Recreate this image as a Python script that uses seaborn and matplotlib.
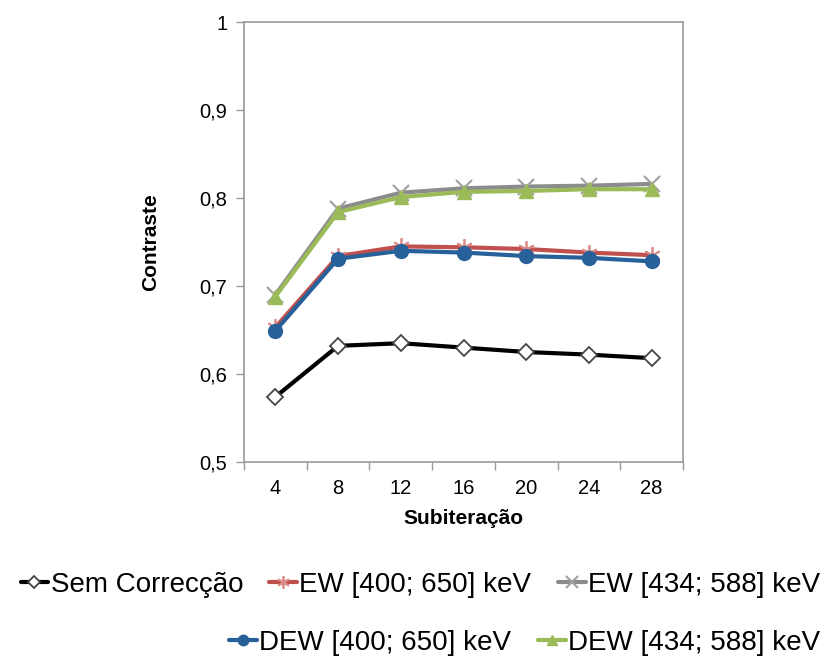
import matplotlib
matplotlib.use("Agg")
import matplotlib.pyplot as plt
import numpy as np
import pandas as pd
import seaborn as sns

subiteracoes = [4, 8, 12, 16, 20, 24, 28]
sem_correccao = [0.574, 0.632, 0.635, 0.630, 0.625, 0.622, 0.618]
ew_400_650 = [0.653, 0.734, 0.745, 0.744, 0.742, 0.738, 0.735]
ew_434_588 = [0.690, 0.788, 0.806, 0.811, 0.813, 0.814, 0.816]
dew_400_650 = [0.649, 0.731, 0.740, 0.738, 0.734, 0.732, 0.728]
dew_434_588 = [0.688, 0.784, 0.801, 0.807, 0.808, 0.810, 0.810]

series = [
    ("Sem Correcção", sem_correccao, dict(color="black", marker="D", mfc="white", mec="#444444", ms=8, mew=1.3)),
    ("EW [400; 650] keV", ew_400_650, dict(color="#C0504D", marker=(6, 2, 0), mec="#D98C8A", ms=12, mew=1.3)),
    ("EW [434; 588] keV", ew_434_588, dict(color="#8C8C8C", marker="x", mec="#A0A0A0", ms=11, mew=1.5)),
    ("DEW [400; 650] keV", dew_400_650, dict(color="#28609A", marker="o", mec="#28609A", ms=10, mew=1)),
    ("DEW [434; 588] keV", dew_434_588, dict(color="#9BBB59", marker="^", mec="#9BBB59", ms=10, mew=1)),
]

sns.set_theme(style="white")
plt.rcParams["font.family"] = ["Liberation Sans", "DejaVu Sans"]
plt.rcParams["text.color"] = "black"
plt.rcParams["axes.labelcolor"] = "black"
plt.rcParams["xtick.labelcolor"] = "black"
plt.rcParams["ytick.labelcolor"] = "black"

fig = plt.figure(figsize=(8.22, 6.6), dpi=100)
ax = fig.add_axes([244 / 822, 1 - 462 / 660, 439 / 822, 440 / 660])

xpos = np.arange(len(subiteracoes))
handles = {}
for name, vals, st in series:
    df = pd.DataFrame({"x": xpos, "y": vals})
    sns.lineplot(data=df, x="x", y="y", ax=ax, color=st["color"], linewidth=3,
                 marker=st["marker"], markersize=st["ms"], markerfacecolor=st.get("mfc", st["mec"]),
                 markeredgecolor=st["mec"], markeredgewidth=st["mew"], label=name, legend=False)
    handles[name] = ax.lines[-1]

ax.set_xlim(-0.5, len(subiteracoes) - 0.5)
ax.set_ylim(0.5, 1.0)
ax.set_xticks(xpos)
ax.set_xticklabels([str(s) for s in subiteracoes])
ax.set_xticks(np.arange(-0.5, len(subiteracoes)), minor=True)
ax.tick_params(axis="x", which="major", length=0, labelsize=14.5, pad=12)
ax.tick_params(axis="x", which="minor", length=6, color="#999999", width=1, direction="out", bottom=True)
ax.set_yticks(np.arange(0.5, 1.01, 0.1))
ax.set_yticklabels(["0,5", "0,6", "0,7", "0,8", "0,9", "1"])
ax.tick_params(axis="y", length=6, color="#999999", width=1, direction="out", labelsize=14.5, pad=6, left=True)

for s in ["top", "right", "left", "bottom"]:
    ax.spines[s].set_visible(True)
    ax.spines[s].set_color("#999999")
    ax.spines[s].set_linewidth(1.2)

ax.set_xlabel("Subiteração", fontsize=15, fontweight="bold", labelpad=8)
ax.set_ylabel("Contraste", fontsize=15, fontweight="bold", labelpad=28)
ax.grid(False)

names = [s[0] for s in series]
leg_kw = dict(frameon=False, fontsize=20, handlelength=1.0, handletextpad=0.08,
              columnspacing=0.95, borderaxespad=0, borderpad=0, markerscale=0.75)
leg1 = fig.legend([handles[n] for n in names[:3]], names[:3], loc="center right",
                  bbox_to_anchor=(820 / 822, 1 - 585 / 660), ncol=3, **leg_kw)
leg2 = fig.legend([handles[n] for n in names[3:]], names[3:], loc="center right",
                  bbox_to_anchor=(820 / 822, 1 - 643 / 660), ncol=2, **leg_kw)
for leg in (leg1, leg2):
    for h in leg.legend_handles:
        h.set_linewidth(3)

fig.savefig("out.png", dpi=100)
